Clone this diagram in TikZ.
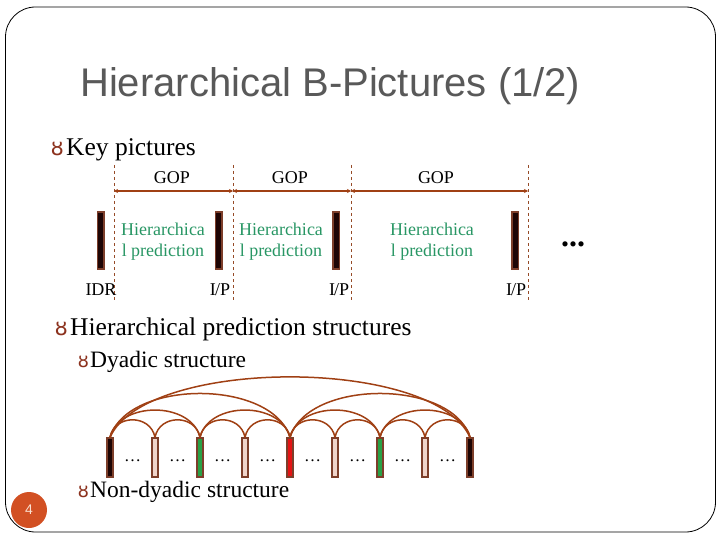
\documentclass[tikz,border=0pt]{standalone}
\usepackage{fontspec}
\setmainfont{Liberation Serif}
\newfontfamily\titlefont{Liberation Sans}
\newfontfamily\symfont{DejaVu Sans}
\usetikzlibrary{arrows.meta}
\definecolor{arcbrown}{RGB}{160,64,20}
\definecolor{dashbrown}{RGB}{150,75,40}
\definecolor{baredge}{RGB}{125,62,42}
\definecolor{bardark}{RGB}{30,5,5}
\definecolor{barpink}{RGB}{240,212,202}
\definecolor{bargreen}{RGB}{40,160,70}
\definecolor{barred}{RGB}{228,20,20}
\definecolor{predgreen}{RGB}{40,150,100}
\definecolor{titlegray}{RGB}{89,89,89}
\definecolor{pagecirc}{RGB}{210,80,35}
\definecolor{pagetext}{RGB}{250,225,210}
\definecolor{bulletbrown}{RGB}{140,50,30}
\tikzset{
  keybar/.style={draw=baredge, fill=bardark, line width=1.5pt, minimum width=6.5pt, minimum height=57pt, inner sep=0pt},
  dybar/.style={draw=baredge, line width=1.3pt, minimum width=6pt, minimum height=39pt, inner sep=0pt},
  gopline/.style={dashbrown, dashed, line width=0.6pt},
  goparrow/.style={arcbrown, line width=1.6pt, {Stealth[length=4pt,width=4pt]}-{Stealth[length=4pt,width=4pt]}},
  dyarc/.style={arcbrown, line width=1.5pt},
  smalltxt/.style={font=\fontsize{18}{20}\selectfont, inner sep=0pt},
  predtxt/.style={font=\fontsize{18}{21}\selectfont, text=predgreen, align=center, inner sep=0pt},
  bul/.style={font=\symfont\fontsize{21}{23}\selectfont, text=bulletbrown, inner sep=0pt, anchor=base east}
}
\begin{document}
\begin{tikzpicture}[x=1pt,y=-1pt]
\useasboundingbox (0,0) rectangle (720,540);
% slide frame
\draw[black, line width=0.8pt, rounded corners=30pt] (5.5,7) rectangle (715.5,532);
% title
\node[anchor=base west, inner sep=0pt, text=titlegray, font=\titlefont\fontsize{40}{44}\selectfont] (title) at (80,97) {Hierarchical B-Pictures (1/2)};
% bullets
\node[bul] (bu1) at (64,156) {ȣ};
\node[anchor=base west, inner sep=0pt, font=\fontsize{25.5}{28}\selectfont] (t1) at (66,156) {Key pictures};
\node[bul] (bu2) at (68,335) {ȣ};
\node[anchor=base west, inner sep=0pt, font=\fontsize{25.5}{28}\selectfont] (t2) at (70,335) {Hierarchical prediction structures};
\node[bul, font=\symfont\fontsize{18}{20}\selectfont] (bu3) at (89,367) {ȣ};
\node[anchor=base west, inner sep=0pt, font=\fontsize{23.5}{26}\selectfont] (t3) at (90,367) {Dyadic structure};
\node[bul, font=\symfont\fontsize{18}{20}\selectfont] (bu4) at (89,497) {ȣ};
\node[anchor=base west, inner sep=0pt, font=\fontsize{23.5}{26}\selectfont] (t4) at (90,497) {Non-dyadic structure};

% key pictures: dashed GOP boundaries
\foreach \n/\x in {d1/114,d2/233,d3/351,d4/528}{
  \coordinate (\n top) at (\x,165);
  \coordinate (\n bot) at (\x,302);
  \coordinate (\n arr) at (\x,191);
  \draw[gopline] (\n top) -- (\n bot);
}
\draw[goparrow] (d1arr) -- (d2arr);
\draw[goparrow] (d2arr) -- (d3arr);
\draw[goparrow] (d3arr) -- (d4arr);
\node[smalltxt, anchor=base] (g1) at (172,184) {GOP};
\node[smalltxt, anchor=base] (g2) at (290,184) {GOP};
\node[smalltxt, anchor=base] (g3) at (436,184) {GOP};

% key bars
\node[keybar] (k0) at (100.5,240.5) {};
\node[keybar] (k1) at (218.5,240.5) {};
\node[keybar] (k2) at (336,240.5) {};
\node[keybar] (k3) at (515,240.5) {};

\node[predtxt, anchor=base] (p1) at (163,256) {Hierarchica\\[-0.5pt]l prediction};
\node[predtxt, anchor=base] (p2) at (281,256) {Hierarchica\\[-0.5pt]l prediction};
\node[predtxt, anchor=base] (p3) at (432,256) {Hierarchica\\[-0.5pt]l prediction};

\node[smalltxt, anchor=base] (l0) at (101,295) {IDR};
\node[smalltxt, anchor=base] (l1) at (220,295) {I\kern-1pt/P};
\node[smalltxt, anchor=base] (l2) at (339,295) {I\kern-1pt/P};
\node[smalltxt, anchor=base] (l3) at (516,295) {I\kern-1pt/P};
\node[inner sep=0pt, font=\bfseries\fontsize{32}{34}\selectfont] (kdots) at (573,244) {...};

% dyadic structure bars
\foreach \i/\c in {0/bardark,1/barpink,2/bargreen,3/barpink,4/barred,5/barpink,6/bargreen,7/barpink,8/bardark}{
  \node[dybar, fill=\c] (b\i) at ({110+45*\i},457.5) {};
}
\foreach \i in {0,...,7}{
  \node[inner sep=0pt, font=\fontsize{17}{18}\selectfont] (dd\i) at ({132.5+45*\i},461) {…};
}
% arcs
\foreach \a/\b/\s/\h in {0/1/45/18,1/2/45/18,2/3/45/18,3/4/45/18,4/5/45/18,5/6/45/18,6/7/45/18,7/8/45/18,
                          0/2/90/28,2/4/90/28,4/6/90/28,6/8/90/28,
                          0/4/180/45,4/8/180/45,
                          0/8/360/62}{
  \draw[dyarc] (b\a.north) .. controls +({0.1*\s},{-1.3*\h}) and +({-0.1*\s},{-1.3*\h}) .. (b\b.north);
}

% page number
\node[circle, fill=pagecirc, minimum size=36pt, inner sep=0pt, text=pagetext, font=\titlefont\fontsize{14}{16}\selectfont] (pg) at (29,510) {4};
\end{tikzpicture}
\end{document}
